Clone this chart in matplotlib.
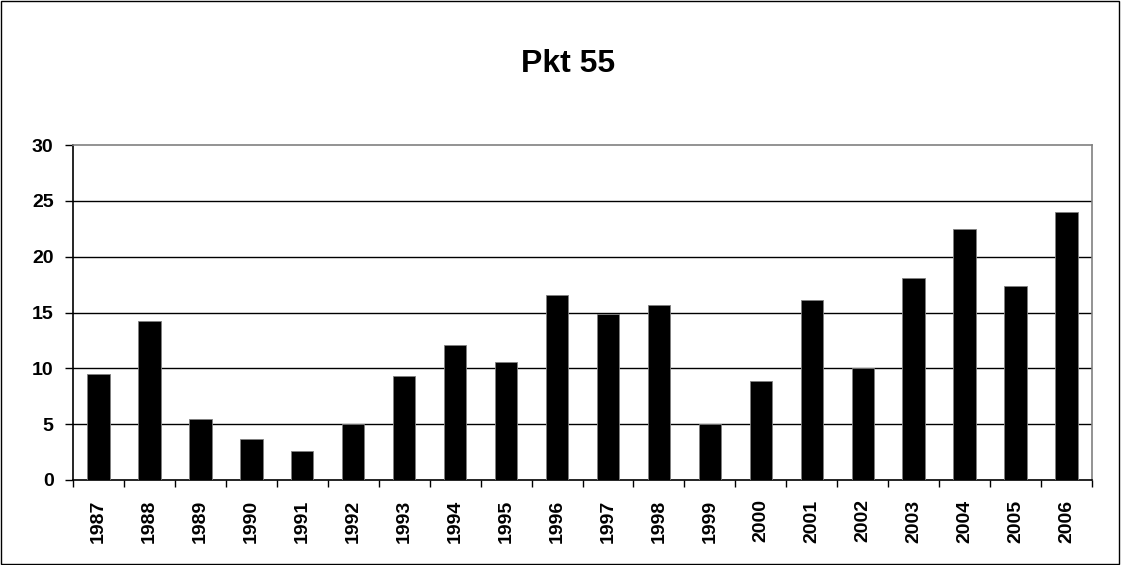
import matplotlib.pyplot as plt
from matplotlib.patches import Rectangle

years = [str(y) for y in range(1987, 2007)]
values = [9.5, 14.2, 5.5, 3.7, 2.6, 5.0, 9.35, 12.05, 10.6, 16.6,
          14.85, 15.65, 5.0, 8.9, 16.1, 10.0, 18.05, 22.5, 17.4, 24.0]

plt.rcParams['font.family'] = ['Liberation Sans', 'DejaVu Sans']
plt.rcParams['font.weight'] = 'bold'

fig = plt.figure(figsize=(11.21, 5.65), dpi=100)
ax = fig.add_axes([73 / 1121, 85 / 565, 1019 / 1121, 335 / 565])

x = list(range(len(years)))
ax.bar(x, values, width=0.44, color='black', edgecolor='#808080', linewidth=0.6, zorder=3)

ax.set_xlim(-0.5, len(years) - 0.5)
ax.set_ylim(0, 30)
ax.set_yticks(range(0, 31, 5))
for v in range(5, 30, 5):
    ax.axhline(v, color='black', linewidth=1.0, zorder=1)

ax.set_xticks([i - 0.5 for i in range(len(years) + 1)])
ax.set_xticklabels([])
ax.set_xticks(x, minor=True)
ax.set_xticklabels(years, minor=True, rotation=90, fontsize=14, fontweight='bold')
ax.tick_params(axis='x', which='minor', length=0, pad=14)
ax.tick_params(axis='x', which='major', length=5, width=1, direction='out')
ax.tick_params(axis='y', length=6, width=1, direction='out', labelsize=14, pad=8)
for lab in ax.get_yticklabels():
    lab.set_fontweight('bold')

ax.spines['left'].set_color('black')
ax.spines['bottom'].set_color('black')
ax.spines['top'].set_color('#808080')
ax.spines['right'].set_color('#808080')
for s in ax.spines.values():
    s.set_linewidth(1.2)

fig.text(568 / 1121, 1 - 64 / 565, 'Pkt 55', ha='center', va='center', fontsize=23, fontweight='bold')

fig.patches.append(Rectangle((0.001, 0.001), 0.997, 0.997, transform=fig.transFigure,
                             fill=False, edgecolor='black', linewidth=1))

fig.savefig('out.png', dpi=100)
